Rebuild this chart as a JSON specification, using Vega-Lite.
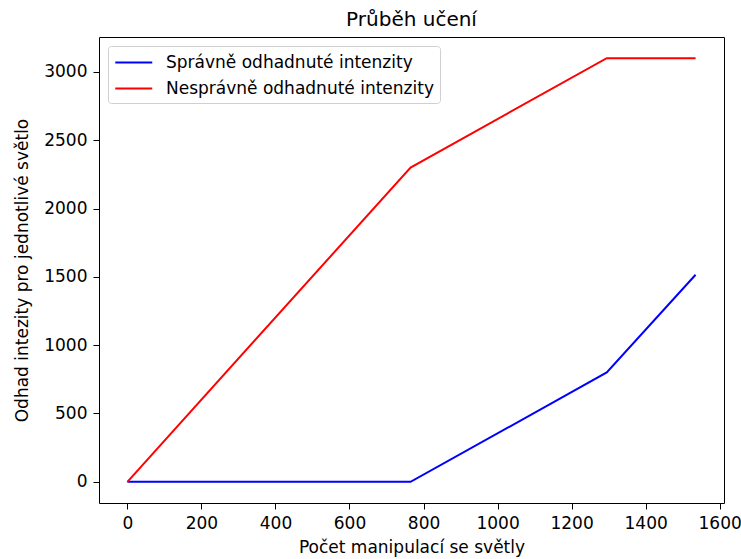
{
  "$schema": "https://vega.github.io/schema/vega-lite/v6.json",
  "width": 625,
  "height": 466,
  "autosize": {"type": "none"},
  "padding": {"left": 99, "top": 37, "right": 17, "bottom": 56},
  "background": "white",
  "title": {"text": "Průběh učení", "fontSize": 20, "font": "DejaVu Sans", "fontWeight": "normal", "color": "#000", "anchor": "middle", "offset": 7},
  "config": {
    "font": "DejaVu Sans",
    "view": {"stroke": "#000", "strokeWidth": 1},
    "axis": {"grid": false, "domain": false, "tickColor": "#000", "tickSize": 6, "tickWidth": 1, "labelFontSize": 17, "labelColor": "#000", "titleFontSize": 17, "titleFontWeight": "normal", "titleColor": "#000", "labelPadding": 6, "format": "d"}
  },
  "data": {"values": [
    {"serie": "Správně odhadnuté intenzity", "x": 0, "y": 0},
    {"serie": "Správně odhadnuté intenzity", "x": 765, "y": 0},
    {"serie": "Správně odhadnuté intenzity", "x": 1295, "y": 800},
    {"serie": "Správně odhadnuté intenzity", "x": 1535, "y": 1515},
    {"serie": "Nesprávně odhadnuté intenzity", "x": 0, "y": 0},
    {"serie": "Nesprávně odhadnuté intenzity", "x": 765, "y": 2300},
    {"serie": "Nesprávně odhadnuté intenzity", "x": 1295, "y": 3100},
    {"serie": "Nesprávně odhadnuté intenzity", "x": 1535, "y": 3100}
  ]},
  "mark": {"type": "line", "strokeWidth": 2},
  "encoding": {
    "x": {"field": "x", "type": "quantitative", "scale": {"domain": [-76.75, 1611.75], "nice": false, "zero": false},
      "axis": {"values": [0, 200, 400, 600, 800, 1000, 1200, 1400, 1600], "title": "Počet manipulací se světly", "titlePadding": 8}},
    "y": {"field": "y", "type": "quantitative", "scale": {"domain": [-155, 3255], "nice": false, "zero": false},
      "axis": {"values": [0, 500, 1000, 1500, 2000, 2500, 3000], "title": "Odhad intezity pro jednotlivé světlo", "titlePadding": 12}},
    "color": {"field": "serie", "type": "nominal",
      "scale": {"domain": ["Správně odhadnuté intenzity", "Nesprávně odhadnuté intenzity"], "range": ["#0000ff", "#ff0000"]},
      "legend": {"title": null, "orient": "top-left", "offset": 9, "symbolType": "M-1,0H3", "symbolSize": 342, "symbolStrokeWidth": 2, "labelFontSize": 17, "labelColor": "#000", "labelOffset": 31, "labelLimit": 500, "rowPadding": 7, "padding": 6, "strokeColor": "#d0d0d0", "cornerRadius": 3, "fillColor": "white"}
    },
    "order": {"field": "x", "type": "quantitative"}
  }
}
